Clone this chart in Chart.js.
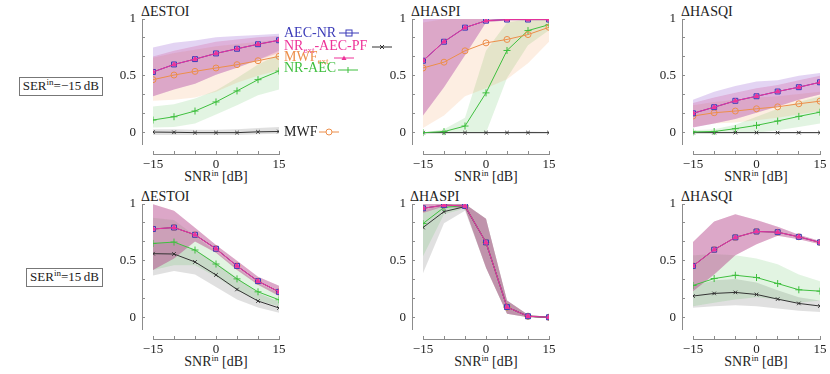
<!DOCTYPE html>
<html>
<head>
<meta charset="utf-8">
<script src="https://cdn.jsdelivr.net/npm/chart.js@4.4.0/dist/chart.umd.min.js"></script>
<style>
  body { margin: 0; background: #fff; width: 830px; height: 374px; overflow: hidden; position: relative;
         font-family: 'Liberation Serif', serif; color: #222; }
  canvas { position: absolute; }
  .t { position: absolute; font-size: 14px; line-height: 14px; white-space: nowrap; }
  .c { transform: translateX(-50%); }
  .sup { font-size: 9px; position: relative; top: -5px; }
  .sub { font-size: 9px; position: relative; top: 3px; }
  .box { position: absolute; border: 1px solid #777; font-size: 13px; line-height: 15px; padding: 0 3px; white-space: nowrap; }
  .mk { position: absolute; }
</style>
</head>
<body>

<!-- row labels -->
<div class="box" style="right:727px;top:77px">SER<span class="sup">in</span>=−15&thinsp;dB</div>
<div class="box" style="right:727px;top:268px">SER<span class="sup">in</span>=15&thinsp;dB</div>

<!-- panel titles -->
<div class="t" style="left:141px;top:5px">ΔESTOI</div>
<div class="t" style="left:411px;top:5px">ΔHASPI</div>
<div class="t" style="left:681px;top:5px">ΔHASQI</div>
<div class="t" style="left:141px;top:190px">ΔESTOI</div>
<div class="t" style="left:410px;top:190px">ΔHASPI</div>
<div class="t" style="left:681px;top:190px">ΔHASQI</div>

<!-- x axis titles -->
<div class="t c" style="left:216px;top:170px">SNR<span class="sup">in</span> [dB]</div>
<div class="t c" style="left:486px;top:170px">SNR<span class="sup">in</span> [dB]</div>
<div class="t c" style="left:756px;top:170px">SNR<span class="sup">in</span> [dB]</div>
<div class="t c" style="left:216px;top:355px">SNR<span class="sup">in</span> [dB]</div>
<div class="t c" style="left:486px;top:355px">SNR<span class="sup">in</span> [dB]</div>
<div class="t c" style="left:756px;top:355px">SNR<span class="sup">in</span> [dB]</div>

<canvas id="c0"></canvas>
<canvas id="c1"></canvas>
<canvas id="c2"></canvas>
<canvas id="c3"></canvas>
<canvas id="c4"></canvas>
<canvas id="c5"></canvas>

<!-- legend (drawn as in the original figure) -->
<div class="t" style="left:284px;top:26px;color:#3b3bb8">AEC-NR</div>
<svg class="mk" style="left:339px;top:29px" width="20" height="8"><line x1="0" y1="4" x2="20" y2="4" stroke="#3b3bb8"/><rect x="7" y="1" width="6" height="6" fill="none" stroke="#3b3bb8"/></svg>
<div class="t" style="left:284px;top:39px;color:#ee3399">NR<span class="sub">ext</span>-AEC-PF</div>
<svg class="mk" style="left:372px;top:43px" width="20" height="8"><line x1="0" y1="4" x2="20" y2="4" stroke="#333"/><path d="M8 2 L12 6 M12 2 L8 6" stroke="#333"/></svg>
<div class="t" style="left:284px;top:50px;color:#ec8e4a">MWF<span class="sub">ext</span></div>
<svg class="mk" style="left:334px;top:54px" width="20" height="8"><line x1="0" y1="4" x2="20" y2="4" stroke="#ee3399"/><path d="M10 1.5 L12.5 6 L7.5 6 Z" fill="#ee3399"/></svg>
<div class="t" style="left:284px;top:61px;color:#3fbf3f">NR-AEC</div>
<svg class="mk" style="left:338px;top:66px" width="20" height="8"><line x1="0" y1="4" x2="20" y2="4" stroke="#3fbf3f"/><line x1="10" y1="1" x2="10" y2="7" stroke="#3fbf3f"/></svg>
<div class="t" style="left:284px;top:125px;color:#222">MWF</div>
<svg class="mk" style="left:319px;top:128px" width="20" height="8"><line x1="0" y1="4" x2="20" y2="4" stroke="#ec8e4a"/><circle cx="10" cy="4" r="3" fill="#fff" stroke="#ec8e4a"/></svg>

<script>
// x positions and tick labels
const snr = [-15, -10, -5, 0, 5, 10, 15];
const xTickLabels = [-15, 0, 15];
const yTickLabels = [0, 0.5, 1];
const yTickMarks = [0, 1 / 6, 2 / 6, 0.5, 4 / 6, 5 / 6, 1];

// ---- SER = -15 dB, ESTOI ----
const estoiA_aec = [0.534, 0.600, 0.647, 0.697, 0.738, 0.778, 0.813];
const estoiA_aecHi = [0.75, 0.79, 0.81, 0.84, 0.85, 0.86, 0.87];
const estoiA_aecLo = [0.32, 0.38, 0.43, 0.51, 0.57, 0.64, 0.72];
const estoiA_nrextHi = [0.67, 0.72, 0.76, 0.80, 0.82, 0.84, 0.85];
const estoiA_nrextLo = [0.32, 0.38, 0.43, 0.51, 0.57, 0.64, 0.70];
const estoiA_mwfext = [0.466, 0.507, 0.539, 0.569, 0.598, 0.633, 0.671];
const estoiA_mwfextHi = [0.66, 0.70, 0.73, 0.76, 0.78, 0.80, 0.82];
const estoiA_mwfextLo = [0.28, 0.29, 0.31, 0.36, 0.44, 0.50, 0.55];
const estoiA_nraec = [0.111, 0.140, 0.190, 0.270, 0.367, 0.466, 0.542];
const estoiA_nraecHi = [0.23, 0.25, 0.30, 0.37, 0.48, 0.60, 0.69];
const estoiA_nraecLo = [0.045, 0.05, 0.08, 0.16, 0.24, 0.33, 0.38];
const estoiA_mwf = [0.005, 0.003, 0.0, 0.0, 0.0, 0.007, 0.010];
const estoiA_mwfHi = [0.03, 0.03, 0.025, 0.025, 0.03, 0.04, 0.05];
const estoiA_mwfLo = [-0.02, -0.02, -0.02, -0.02, -0.02, -0.015, -0.01];

// ---- SER = -15 dB, HASPI ----
const haspiA_aec = [0.633, 0.80, 0.924, 0.985, 0.995, 0.995, 0.995];
const haspiA_aecHi = [1, 1, 1, 1, 1, 1, 1];
const haspiA_aecLo = [0.15, 0.40, 0.68, 0.97, 0.99, 0.99, 0.99];
const haspiA_mwfext = [0.569, 0.62, 0.72, 0.79, 0.82, 0.863, 0.927];
const haspiA_mwfextHi = [0.97, 1, 1, 1, 1, 1, 1];
const haspiA_mwfextLo = [0.04, 0.15, 0.32, 0.39, 0.47, 0.61, 0.80];
const haspiA_nraec = [0.0, 0.009, 0.058, 0.35, 0.723, 0.898, 0.95];
const haspiA_nraecHi = [0.0, 0.03, 0.13, 0.72, 0.97, 1, 1];
const haspiA_nraecLo = [0, 0, 0, 0, 0.48, 0.77, 0.90];
const haspiA_mwf = [0, 0, 0, 0, 0, 0, 0];
const haspiA_mwfHi = [0.005, 0.005, 0.005, 0.005, 0.005, 0.01, 0.005];
const haspiA_mwfLo = [-0.005, -0.005, -0.005, -0.005, -0.005, -0.005, -0.005];

// ---- SER = -15 dB, HASQI ----
const hasqiA_aec = [0.17, 0.224, 0.28, 0.32, 0.362, 0.40, 0.443];
const hasqiA_aecHi = [0.29, 0.36, 0.41, 0.45, 0.46, 0.50, 0.525];
const hasqiA_aecLo = [0.045, 0.08, 0.12, 0.175, 0.23, 0.29, 0.335];
const hasqiA_nrextHi = [0.26, 0.31, 0.35, 0.39, 0.42, 0.46, 0.50];
const hasqiA_mwfext = [0.146, 0.175, 0.19, 0.21, 0.227, 0.254, 0.277];
const hasqiA_mwfextHi = [0.24, 0.27, 0.29, 0.31, 0.32, 0.34, 0.36];
const hasqiA_mwfextLo = [0.05, 0.08, 0.09, 0.11, 0.13, 0.16, 0.19];
const hasqiA_nraec = [0.006, 0.01, 0.035, 0.064, 0.102, 0.143, 0.18];
const hasqiA_nraecHi = [0.02, 0.03, 0.07, 0.14, 0.21, 0.27, 0.32];
const hasqiA_nraecLo = [0, 0, 0, 0, 0.02, 0.05, 0.08];
const hasqiA_mwf = [0, 0, 0, 0, 0, 0, 0];
const hasqiA_mwfHi = [0.006, 0.006, 0.006, 0.006, 0.006, 0.006, 0.006];
const hasqiA_mwfLo = [-0.006, -0.006, -0.006, -0.006, -0.006, -0.006, -0.006];

// ---- SER = 15 dB, ESTOI ----
const estoiB_aec = [0.78, 0.793, 0.729, 0.606, 0.455, 0.321, 0.227];
const estoiB_aecHi = [0.997, 0.94, 0.79, 0.64, 0.50, 0.36, 0.28];
const estoiB_aecLo = [0.42, 0.52, 0.67, 0.57, 0.42, 0.29, 0.19];
const estoiB_nraec = [0.653, 0.665, 0.595, 0.472, 0.341, 0.227, 0.157];
const estoiB_nraecHi = [0.88, 0.86, 0.72, 0.58, 0.44, 0.30, 0.22];
const estoiB_nraecLo = [0.42, 0.46, 0.46, 0.36, 0.24, 0.15, 0.10];
const estoiB_mwf = [0.563, 0.56, 0.49, 0.376, 0.248, 0.146, 0.085];
const estoiB_mwfHi = [0.66, 0.66, 0.60, 0.48, 0.35, 0.22, 0.14];
const estoiB_mwfLo = [0.37, 0.41, 0.38, 0.27, 0.16, 0.09, 0.044];

// ---- SER = 15 dB, HASPI ----
const haspiB_aec = [0.962, 0.99, 0.983, 0.662, 0.093, 0.012, 0.003];
const haspiB_aecHi = [1, 1, 1, 0.87, 0.15, 0.025, 0.006];
const haspiB_aecLo = [0.92, 0.98, 0.96, 0.44, 0.035, 0.003, 0.0];
const haspiB_nraec = [0.828, 0.97, 0.985, 0.662, 0.093, 0.012, 0.003];
const haspiB_nraecHi = [0.94, 1, 1, 0.87, 0.15, 0.025, 0.006];
const haspiB_nraecLo = [0.54, 0.91, 0.96, 0.44, 0.035, 0.003, 0.0];
const haspiB_mwf = [0.793, 0.933, 0.977, 0.662, 0.093, 0.012, 0.003];
const haspiB_mwfHi = [0.92, 0.99, 1, 0.87, 0.15, 0.025, 0.006];
const haspiB_mwfLo = [0.39, 0.83, 0.94, 0.44, 0.035, 0.003, 0.0];

// ---- SER = 15 dB, HASQI ----
const hasqiB_aec = [0.455, 0.598, 0.706, 0.758, 0.752, 0.711, 0.662];
const hasqiB_aecHi = [0.665, 0.845, 0.91, 0.86, 0.80, 0.73, 0.675];
const hasqiB_aecLo = [0.233, 0.38, 0.55, 0.645, 0.72, 0.69, 0.645];
const hasqiB_nraec = [0.283, 0.344, 0.373, 0.353, 0.30, 0.245, 0.233];
const hasqiB_nraecHi = [0.55, 0.56, 0.55, 0.52, 0.47, 0.38, 0.32];
const hasqiB_nraecLo = [0.10, 0.13, 0.16, 0.18, 0.16, 0.13, 0.15];
const hasqiB_mwf = [0.19, 0.213, 0.222, 0.204, 0.163, 0.125, 0.102];
const hasqiB_mwfHi = [0.28, 0.33, 0.34, 0.31, 0.24, 0.18, 0.15];
const hasqiB_mwfLo = [0.087, 0.10, 0.11, 0.10, 0.08, 0.06, 0.05];

// series look (first one ends up on top)
const styles = {
  nrext:  { color: '#ee3399', band: 'rgba(200,40,120,0.20)', point: 'triangle', r: 2.5, bg: '#ee3399' },
  aec:    { color: '#3b3bb8', band: 'rgba(128,60,200,0.22)', point: 'rect', r: 3.5, bg: 'rgba(150,150,235,0.6)' },
  mwfext: { color: '#ec8e4a', band: 'rgba(240,140,60,0.15)', point: 'circle', r: 3, bg: 'rgba(255,255,255,0)' },
  nraec:  { color: '#3fbf3f', band: 'rgba(60,180,60,0.15)', point: 'cross', r: 3.5, bg: '#3fbf3f' },
  mwf:    { color: '#333333', band: 'rgba(0,0,0,0.12)', point: 'crossRot', r: 2.5, bg: '#333333' }
};
const order = ['nrext', 'aec', 'mwfext', 'nraec', 'mwf'];

const panels = [
  { id: 'c0', left: 153, right: 279, top: 19, bottom: 144, s: {
      nrext: [estoiA_aec, estoiA_nrextHi, estoiA_nrextLo], aec: [estoiA_aec, estoiA_aecHi, estoiA_aecLo],
      mwfext: [estoiA_mwfext, estoiA_mwfextHi, estoiA_mwfextLo], nraec: [estoiA_nraec, estoiA_nraecHi, estoiA_nraecLo],
      mwf: [estoiA_mwf, estoiA_mwfHi, estoiA_mwfLo] } },
  { id: 'c1', left: 423, right: 549, top: 19, bottom: 144, s: {
      nrext: [haspiA_aec, haspiA_aecHi, haspiA_aecLo], aec: [haspiA_aec, haspiA_aecHi, haspiA_aecLo],
      mwfext: [haspiA_mwfext, haspiA_mwfextHi, haspiA_mwfextLo], nraec: [haspiA_nraec, haspiA_nraecHi, haspiA_nraecLo],
      mwf: [haspiA_mwf, haspiA_mwfHi, haspiA_mwfLo] } },
  { id: 'c2', left: 693, right: 820, top: 19, bottom: 144, s: {
      nrext: [hasqiA_aec, hasqiA_nrextHi, hasqiA_aecLo], aec: [hasqiA_aec, hasqiA_aecHi, hasqiA_aecLo],
      mwfext: [hasqiA_mwfext, hasqiA_mwfextHi, hasqiA_mwfextLo], nraec: [hasqiA_nraec, hasqiA_nraecHi, hasqiA_nraecLo],
      mwf: [hasqiA_mwf, hasqiA_mwfHi, hasqiA_mwfLo] } },
  { id: 'c3', left: 153, right: 279, top: 204, bottom: 329, s: {
      nrext: [estoiB_aec, estoiB_aecHi, estoiB_aecLo], aec: [estoiB_aec, estoiB_aecHi, estoiB_aecLo],
      mwfext: [estoiB_aec, estoiB_aecHi, estoiB_aecLo], nraec: [estoiB_nraec, estoiB_nraecHi, estoiB_nraecLo],
      mwf: [estoiB_mwf, estoiB_mwfHi, estoiB_mwfLo] } },
  { id: 'c4', left: 423, right: 549, top: 204, bottom: 329, s: {
      nrext: [haspiB_aec, haspiB_aecHi, haspiB_aecLo], aec: [haspiB_aec, haspiB_aecHi, haspiB_aecLo],
      mwfext: [haspiB_aec, haspiB_aecHi, haspiB_aecLo], nraec: [haspiB_nraec, haspiB_nraecHi, haspiB_nraecLo],
      mwf: [haspiB_mwf, haspiB_mwfHi, haspiB_mwfLo] } },
  { id: 'c5', left: 693, right: 820, top: 204, bottom: 329, s: {
      nrext: [hasqiB_aec, hasqiB_aecHi, hasqiB_aecLo], aec: [hasqiB_aec, hasqiB_aecHi, hasqiB_aecLo],
      mwfext: [hasqiB_aec, hasqiB_aecHi, hasqiB_aecLo], nraec: [hasqiB_nraec, hasqiB_nraecHi, hasqiB_nraecLo],
      mwf: [hasqiB_mwf, hasqiB_mwfHi, hasqiB_mwfLo] } }
];

const pts = vals => snr.map((x, i) => ({ x: x, y: vals[i] }));
const fmt = v => (v < 0 ? '\u2212' + Math.abs(v) : String(v));
const isLabel = (list, v) => list.some(t => Math.abs(t - v) < 1e-6);

const axisGrey = '#8c8c8c';
const tickFont = { family: 'Liberation Serif', size: 13 };
// gaps between plot area and the separated axis lines (pgfplots look)
const gapY = 11, gapX = 10;
const padL = 55, padR = 10, padT = 10, padB = 32;

// empty scale that only takes up room next to the plot area
const spacer = (position, size) => ({
  type: 'linear', min: 0, max: 1, position: position, weight: 0,
  grid: { display: false, drawTicks: false }, border: { display: false }, ticks: { display: false },
  afterFit: s => {
    if (position === 'left') s.width = size; else s.height = size;
    s.paddingLeft = s.paddingRight = s.paddingTop = s.paddingBottom = 0;
  }
});

panels.forEach(p => {
  const cv = document.getElementById(p.id);
  const w = p.right - p.left + padL + padR;
  const h = p.bottom - p.top + padT + padB;
  cv.width = w; cv.height = h;
  cv.style.left = (p.left - padL) + 'px';
  cv.style.top = (p.top - padT) + 'px';

  const lines = [];
  const bands = [];
  order.forEach(k => {
    const st = styles[k];
    const [mean, hi, lo] = p.s[k];
    lines.push({
      xAxisID: 'x', yAxisID: 'y',
      data: pts(mean), borderColor: st.color, borderWidth: 1, tension: 0, fill: false,
      pointStyle: st.point, pointRadius: st.r, pointBorderColor: st.color,
      pointBackgroundColor: st.bg, pointBorderWidth: 1
    });
    bands.push({ xAxisID: 'x', yAxisID: 'y', data: pts(hi), borderWidth: 0, pointRadius: 0, fill: false });
    bands.push({ xAxisID: 'x', yAxisID: 'y', data: pts(lo), borderWidth: 0, pointRadius: 0, fill: '-1', backgroundColor: st.band });
  });

  new Chart(cv, {
    type: 'line',
    data: { datasets: lines.concat(bands) },
    options: {
      responsive: false, animation: false, devicePixelRatio: 1, events: [],
      layout: { padding: { left: 0, right: padR, top: padT, bottom: 0 } },
      plugins: { legend: { display: false }, tooltip: { enabled: false } },
      scales: {
        x: {
          type: 'linear', min: -15, max: 15, position: 'bottom', weight: 1,
          grid: { display: true, drawOnChartArea: false, drawTicks: true, tickLength: -3, color: axisGrey, lineWidth: 1 },
          border: { display: true, color: axisGrey, width: 1 },
          afterBuildTicks: s => { s.ticks = snr.map(v => ({ value: v })); },
          afterFit: s => { s.height = padB - gapX; s.paddingLeft = 0; s.paddingRight = 0; },
          ticks: { padding: 6, color: '#222', font: tickFont, maxRotation: 0, autoSkip: false,
                   callback: v => (isLabel(xTickLabels, v) ? fmt(v) : '') }
        },
        xgap: spacer('bottom', gapX),
        y: {
          type: 'linear', min: -0.1, max: 1, position: 'left', weight: 1,
          grid: { display: true, drawOnChartArea: false, drawTicks: true, tickLength: -3, color: axisGrey, lineWidth: 1 },
          border: { display: true, color: axisGrey, width: 1 },
          afterBuildTicks: s => { s.ticks = yTickMarks.map(v => ({ value: v })); },
          afterFit: s => { s.width = padL - gapY; s.paddingTop = 0; s.paddingBottom = 0; },
          ticks: { padding: 9, color: '#222', font: tickFont, autoSkip: false,
                   callback: v => (isLabel(yTickLabels, v) ? fmt(v) : '') }
        },
        ygap: spacer('left', gapY)
      }
    }
  });
});
</script>
</body>
</html>
